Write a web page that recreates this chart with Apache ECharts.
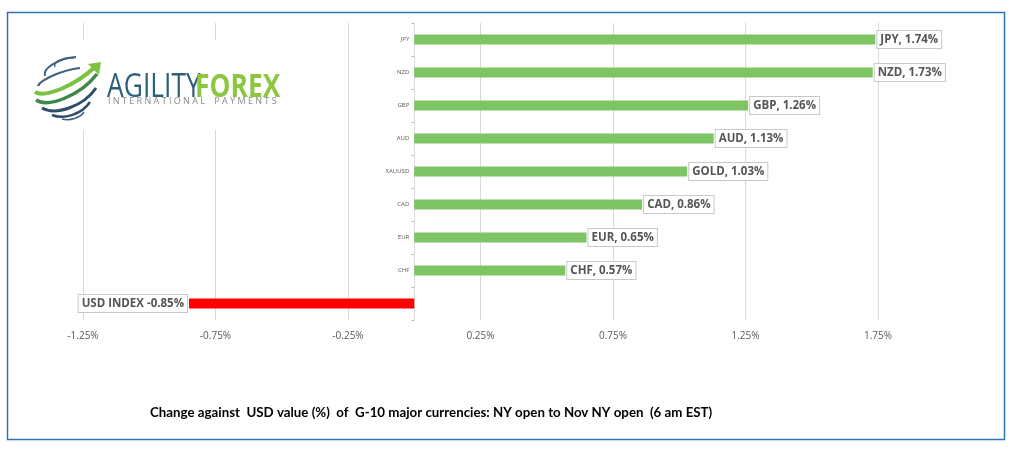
<!DOCTYPE html>
<html>
<head>
<meta charset="utf-8">
<script src="https://cdn.jsdelivr.net/npm/echarts@6/dist/echarts.min.js"></script>
<style>
html,body{margin:0;padding:0;background:#fff;}
#chart{width:1024px;height:451px;}
</style>
</head>
<body>
<div id="chart"></div>
<script>
// ---- data ----
const categories = ['JPY', 'NZD', 'GBP', 'AUD', 'XAUUSD', 'CAD', 'EUR', 'CHF', 'USD'];
const labelNames = ['JPY', 'NZD', 'GBP', 'AUD', 'GOLD', 'CAD', 'EUR', 'CHF', 'USD INDEX'];
const values = [1.74, 1.73, 1.26, 1.13, 1.03, 0.86, 0.65, 0.57, -0.85];
const tickValues = [-1.25, -0.75, -0.25, 0.25, 0.75, 1.25, 1.75];
const chartTitle = 'Change against  USD value (%)  of  G-10 major currencies: NY open to Nov NY open  (6 am EST)';

const GREEN = '#7cc562';
const RED = '#ff0000';

const X_MIN = -1.25, X_MAX = 1.75;
const GRID_LEFT = 83, GRID_RIGHT = 146, W = 1024;
// shift the category axis so it sits on the zero line
const zeroOffset = (0 - X_MIN) / (X_MAX - X_MIN) * (W - GRID_LEFT - GRID_RIGHT);

const chart = echarts.init(document.getElementById('chart'), null, {renderer: 'canvas'});

const seriesData = values.map((v, i) => {
  const neg = v < 0;
  return {
    value: v,
    itemStyle: {color: neg ? RED : GREEN},
    label: {
      show: true,
      position: neg ? 'left' : 'right',
      distance: 2,
      formatter: neg ? (labelNames[i] + ' ' + v.toFixed(2) + '%') : (labelNames[i] + ', ' + v.toFixed(2) + '%')
    }
  };
});

const option = {
  backgroundColor: '#fff',
  animation: false,
  title: {
    text: chartTitle,
    left: 145,
    top: 401,
    textStyle: {fontFamily: 'Lato', fontSize: 13.3, fontWeight: 'bold', color: '#000'}
  },
  grid: {left: GRID_LEFT, right: GRID_RIGHT, top: 23, bottom: 131, containLabel: false},
  xAxis: {
    type: 'value',
    min: X_MIN,
    max: X_MAX,
    axisLine: {show: false},
    axisTick: {show: false, customValues: tickValues},
    axisLabel: {
      customValues: tickValues,
      margin: 11,
      fontFamily: 'Open Sans',
      fontSize: 10,
      color: '#595959',
      formatter: v => v.toFixed(2) + '%'
    },
    splitLine: {show: true, lineStyle: {color: '#d9d9d9', width: 1}}
  },
  yAxis: {
    type: 'category',
    inverse: true,
    data: categories,
    offset: -zeroOffset,
    axisLine: {show: true, onZero: false, lineStyle: {color: '#d9d9d9'}},
    axisTick: {show: true, length: 3, lineStyle: {color: '#bfbfbf'}},
    axisLabel: {fontFamily: 'Open Sans', fontSize: 6, color: '#595959', margin: 5},
    z: 1
  },
  series: [{
    type: 'bar',
    data: seriesData,
    barWidth: 10,
    z: 2,
    label: {
      fontFamily: 'Open Sans',
      fontSize: 11.5,
      fontWeight: 'bold',
      color: '#555555',
      backgroundColor: '#fff',
      borderColor: '#c8c8c8',
      borderWidth: 1,
      padding: [3, 3, 2, 3]
    }
  }],
  graphic: [
    // outer border
    {type: 'rect', shape: {x: 7.5, y: 12.5, width: 997, height: 427}, style: {fill: 'none', stroke: '#2f75b5', lineWidth: 1.5}, z: 100},
    // logo backdrop
    {type: 'rect', shape: {x: 28, y: 40, width: 258, height: 90}, style: {fill: '#fff'}, z: 50},
    // globe swooshes
    {type: 'bezierCurve', shape: {x1: 55, y1: 67, x2: 74, y2: 58, cpx1: 52, cpy1: 62, cpx2: 64, cpy2: 57}, style: {stroke: '#3b5f7e', lineWidth: 1.5, fill: 'none'}, z: 51},
    {type: 'bezierCurve', shape: {x1: 45, y1: 76, x2: 76, y2: 57, cpx1: 42, cpy1: 68, cpx2: 60, cpy2: 58}, style: {stroke: '#3b5f7e', lineWidth: 1.8, fill: 'none'}, z: 51},
    {type: 'bezierCurve', shape: {x1: 38, y1: 86, x2: 80, y2: 68, cpx1: 40, cpy1: 80, cpx2: 62, cpy2: 70}, style: {stroke: '#3b5f7e', lineWidth: 2.2, fill: 'none'}, z: 51},
    {type: 'bezierCurve', shape: {x1: 35, y1: 92, x2: 96, y2: 66, cpx1: 45, cpy1: 98, cpx2: 75, cpy2: 86}, style: {stroke: '#7cc242', lineWidth: 4, fill: 'none'}, z: 51},
    {type: 'bezierCurve', shape: {x1: 36, y1: 100, x2: 97, y2: 74, cpx1: 48, cpy1: 108, cpx2: 80, cpy2: 96}, style: {stroke: '#3a8a45', lineWidth: 3.5, fill: 'none'}, z: 51},
    {type: 'bezierCurve', shape: {x1: 42, y1: 108, x2: 96, y2: 88, cpx1: 56, cpy1: 116, cpx2: 84, cpy2: 106}, style: {stroke: '#2e4e6a', lineWidth: 3, fill: 'none'}, z: 51},
    {type: 'bezierCurve', shape: {x1: 52, y1: 115, x2: 90, y2: 102, cpx1: 64, cpy1: 120, cpx2: 82, cpy2: 114}, style: {stroke: '#2e4e6a', lineWidth: 2.5, fill: 'none'}, z: 51},
    {type: 'bezierCurve', shape: {x1: 62, y1: 119, x2: 84, y2: 112, cpx1: 70, cpy1: 121, cpx2: 80, cpy2: 118}, style: {stroke: '#3b5f7e', lineWidth: 1.5, fill: 'none'}, z: 51},
    {type: 'polygon', shape: {points: [[101, 62], [88, 64], [92, 68], [96, 72], [99, 75]]}, style: {fill: '#7cc242'}, z: 52},
    // logo text
    {type: 'text', x: 107, y: 71, scaleX: 0.8, style: {text: 'AGILITY', fontFamily: 'Open Sans', fontSize: 33, fontWeight: 'normal', fill: '#2c6079', textVerticalAlign: 'top'}, z: 52},
    {type: 'text', x: 195, y: 71, scaleX: 0.8, style: {text: 'FOREX', fontFamily: 'Open Sans', fontSize: 33, fontWeight: 'bold', fill: '#8dc63f', textVerticalAlign: 'top'}, z: 52},
    {type: 'text', x: 108, y: 97, style: {text: 'I N T E R N A T I O N A L    P A Y M E N T S', fontFamily: 'Open Sans', fontSize: 9, fill: '#8a8a8a', textVerticalAlign: 'top'}, z: 52}
  ]
};
chart.setOption(option);
</script>
</body>
</html>
